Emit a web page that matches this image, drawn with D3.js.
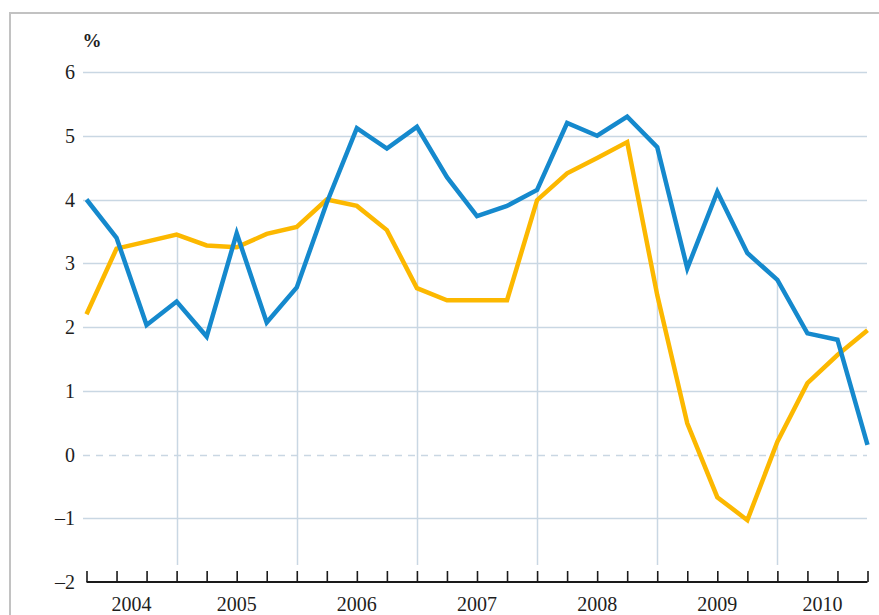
<!DOCTYPE html>
<html>
<head>
<meta charset="utf-8">
<script src="https://cdn.jsdelivr.net/npm/d3@7"></script>
<style>
  html, body { margin: 0; padding: 0; background: #fff; }
  svg { display: block; }
  text { font-family: "Liberation Serif", "Times New Roman", serif; fill: #1e1e1e; }
</style>
</head>
<body>
<svg id="chart" width="879" height="615"></svg>
<script>
// ---- data (quarterly, 2004 Q1 – 2010 Q3) ----
const years = ["2004", "2005", "2006", "2007", "2008", "2009", "2010"];
const quarters = d3.range(27); // quarter index
const blueSeries = [4.0, 3.4, 2.03, 2.4, 1.85, 3.47, 2.07, 2.62, 3.95, 5.12, 4.8, 5.14, 4.35, 3.74, 3.9, 4.15,
                    5.2, 5.0, 5.3, 4.82, 2.92, 4.12, 3.16, 2.74, 1.9, 1.8, 0.15];
const yellowSeries = [2.2, 3.23, 3.34, 3.45, 3.28, 3.25, 3.46, 3.57, 4.0, 3.9, 3.52, 2.61, 2.42, 2.42, 2.42, 3.99,
                      4.41, 4.65, 4.9, 2.5, 0.49, -0.67, -1.03, 0.2, 1.12, 1.56, 1.95];
const yTicks = [6, 5, 4, 3, 2, 1, 0, -1, -2];
const yearBoundaries = [0, 3, 7, 11, 15, 19, 23, 26]; // quarter indices where year gridlines/edges lie
const unitLabel = "%";

// ---- layout ----
const svg = d3.select("#chart");
const x = d3.scaleLinear().domain([0, 26]).range([86.5, 867.5]);
const y = d3.scaleLinear().domain([-2, 6]).range([582, 72]);

// frame
svg.append("rect")
  .attr("x", 10).attr("y", 13).attr("width", 880).attr("height", 620)
  .attr("fill", "none").attr("stroke", "#c2c2c2").attr("stroke-width", 2);

const gridColor = "#c9d7e3";

// horizontal gridlines
svg.append("g").selectAll("line")
  .data(yTicks.filter(d => d > -2))
  .join("line")
  .attr("x1", 83).attr("x2", 867)
  .attr("y1", d => Math.round(y(d)) + 0.5).attr("y2", d => Math.round(y(d)) + 0.5)
  .attr("stroke", gridColor).attr("stroke-width", 1.5)
  .attr("stroke-dasharray", d => d === 0 ? "7,6" : null);

// vertical year gridlines (inner boundaries), from baseline up to the series
svg.append("g").selectAll("line")
  .data(yearBoundaries.slice(1, -1))
  .join("line")
  .attr("x1", d => Math.round(x(d)) + 0.5).attr("x2", d => Math.round(x(d)) + 0.5)
  .attr("y1", 565)
  .attr("y2", d => y(Math.max(blueSeries[d], yellowSeries[d])))
  .attr("stroke", gridColor).attr("stroke-width", 1.5);

// y tick labels
svg.append("g").selectAll("text")
  .data(yTicks)
  .join("text")
  .attr("x", 75)
  .attr("y", d => y(d))
  .attr("dy", "0.35em")
  .attr("text-anchor", "end")
  .attr("font-size", 20)
  .text(d => d < 0 ? "\u2013" + Math.abs(d) : d);

svg.append("text")
  .attr("x", 92).attr("y", 47)
  .attr("text-anchor", "middle")
  .attr("font-size", 19)
  .attr("font-weight", "bold")
  .text(unitLabel);

// x axis
const axisG = svg.append("g").attr("transform", `translate(0, 582)`);
const xAxis = d3.axisTop(x).tickValues(quarters).tickSize(11).tickFormat("").tickSizeOuter(0);
axisG.call(xAxis);
axisG.select(".domain").attr("stroke", "#1a1a1a").attr("stroke-width", 2).attr("d", `M${x(0)},0H${x(26)}`);
axisG.selectAll(".tick line").attr("stroke", "#1a1a1a").attr("stroke-width", 1.6);

// year labels, centred between year boundaries
svg.append("g").selectAll("text")
  .data(years)
  .join("text")
  .attr("x", (d, i) => x((yearBoundaries[i] + yearBoundaries[i + 1]) / 2))
  .attr("y", 611)
  .attr("text-anchor", "middle")
  .attr("font-size", 20)
  .text(d => d);

// lines
const line = d3.line().x((d, i) => x(i)).y(d => y(d)).curve(d3.curveLinear);
svg.append("path").datum(yellowSeries)
  .attr("d", line).attr("fill", "none")
  .attr("stroke", "#fcb800").attr("stroke-width", 4.5).attr("stroke-linejoin", "miter");
svg.append("path").datum(blueSeries)
  .attr("d", line).attr("fill", "none")
  .attr("stroke", "#1589cd").attr("stroke-width", 4.5).attr("stroke-linejoin", "miter");
</script>
</body>
</html>
